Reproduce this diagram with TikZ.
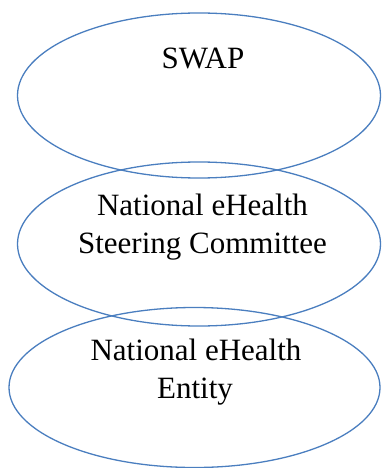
\documentclass[tikz,border=0pt]{standalone}
\usepackage{fontspec}
\setmainfont{Liberation Serif}
\definecolor{ringblue}{HTML}{4A7EBF}
\begin{document}
\begin{tikzpicture}[x=1pt,y=-1pt,
  ring/.style={draw=ringblue,line width=1.3pt},
  lbl/.style={anchor=base,inner sep=0pt,font=\fontsize{31}{38}\selectfont,text=black}]
\useasboundingbox (0,0) rectangle (381,468);
\draw[ring] (199,95.5) ellipse [x radius=181.5,y radius=82.5];
\draw[ring] (199,244) ellipse [x radius=181.5,y radius=82];
\draw[ring] (194.5,387.5) ellipse [x radius=185.5,y radius=80];
\node[lbl] (swap) at (203,69) {SWAP};
\node[lbl] (nsc1) at (202.5,215) {National eHealth};
\node[lbl] (nsc2) at (202.5,253) {Steering Committee};
\node[lbl] (ne1) at (196,360) {National eHealth};
\node[lbl] (ne2) at (195,398) {Entity};
\end{tikzpicture}
\end{document}
